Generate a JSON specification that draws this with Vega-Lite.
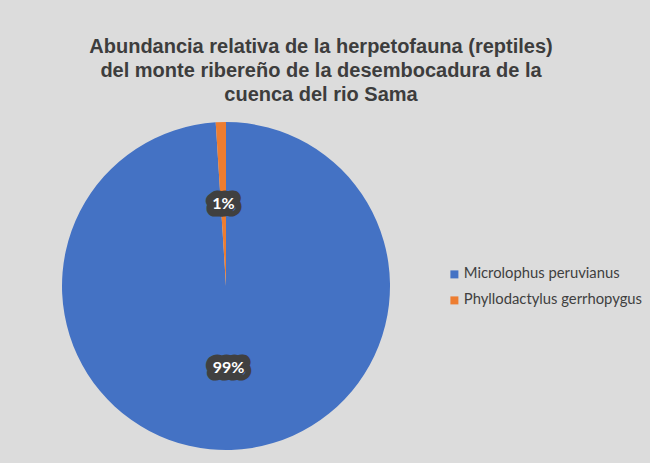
{
  "$schema": "https://vega.github.io/schema/vega-lite/v6.json",
  "width": 328,
  "height": 328,
  "autosize": {"type": "none"},
  "padding": {"left": 62, "top": 122, "right": 260, "bottom": 13},
  "background": "#dcdcdc",
  "config": {"view": {"stroke": null}},
  "title": {
    "text": ["Abundancia relativa de la herpetofauna (reptiles)", "del monte ribereño de la desembocadura de la", "cuenca del rio Sama"],
    "font": "Liberation Sans",
    "fontSize": 20,
    "fontWeight": "bold",
    "color": "#3d3d3d",
    "lineHeight": 24,
    "anchor": "middle",
    "dx": 95,
    "offset": 17
  },
  "data": {
    "values": [
      {"especie": "Microlophus peruvianus", "valor": 99, "etiqueta": "99%"},
      {"especie": "Phyllodactylus gerrhopygus", "valor": 1, "etiqueta": "1%"}
    ]
  },
  "encoding": {
    "theta": {"field": "valor", "type": "quantitative", "stack": true},
    "order": {"field": "especie", "type": "nominal", "sort": "ascending"}
  },
  "layer": [
    {
      "mark": {"type": "arc", "outerRadius": 164},
      "encoding": {
        "color": {
          "field": "especie",
          "type": "nominal",
          "scale": {"domain": ["Microlophus peruvianus", "Phyllodactylus gerrhopygus"], "range": ["#4472C4", "#ED7D31"]},
          "legend": {
            "orient": "none",
            "legendX": 385,
            "legendY": 145,
            "title": null,
            "symbolType": "square",
            "symbolSize": 64,
            "symbolStrokeWidth": 0,
            "labelFont": "Lato",
            "labelFontSize": 14.8,
            "labelColor": "#404040",
            "labelLimit": 300,
            "rowPadding": 10,
            "labelOffset": 2,
            "padding": 0
          }
        }
      }
    },
    {
      "mark": {"type": "text", "radius": 82, "font": "Lato", "fontSize": 16, "fontWeight": "bold", "fill": "#404040", "stroke": "#404040", "strokeWidth": 15, "strokeJoin": "round"},
      "encoding": {
        "detail": {"field": "especie", "type": "nominal"},
        "text": {"field": "etiqueta", "type": "nominal"}
      }
    },
    {
      "mark": {"type": "text", "radius": 82, "font": "Lato", "fontSize": 16, "fontWeight": "bold", "fill": "#ffffff"},
      "encoding": {
        "detail": {"field": "especie", "type": "nominal"},
        "text": {"field": "etiqueta", "type": "nominal"}
      }
    }
  ]
}
